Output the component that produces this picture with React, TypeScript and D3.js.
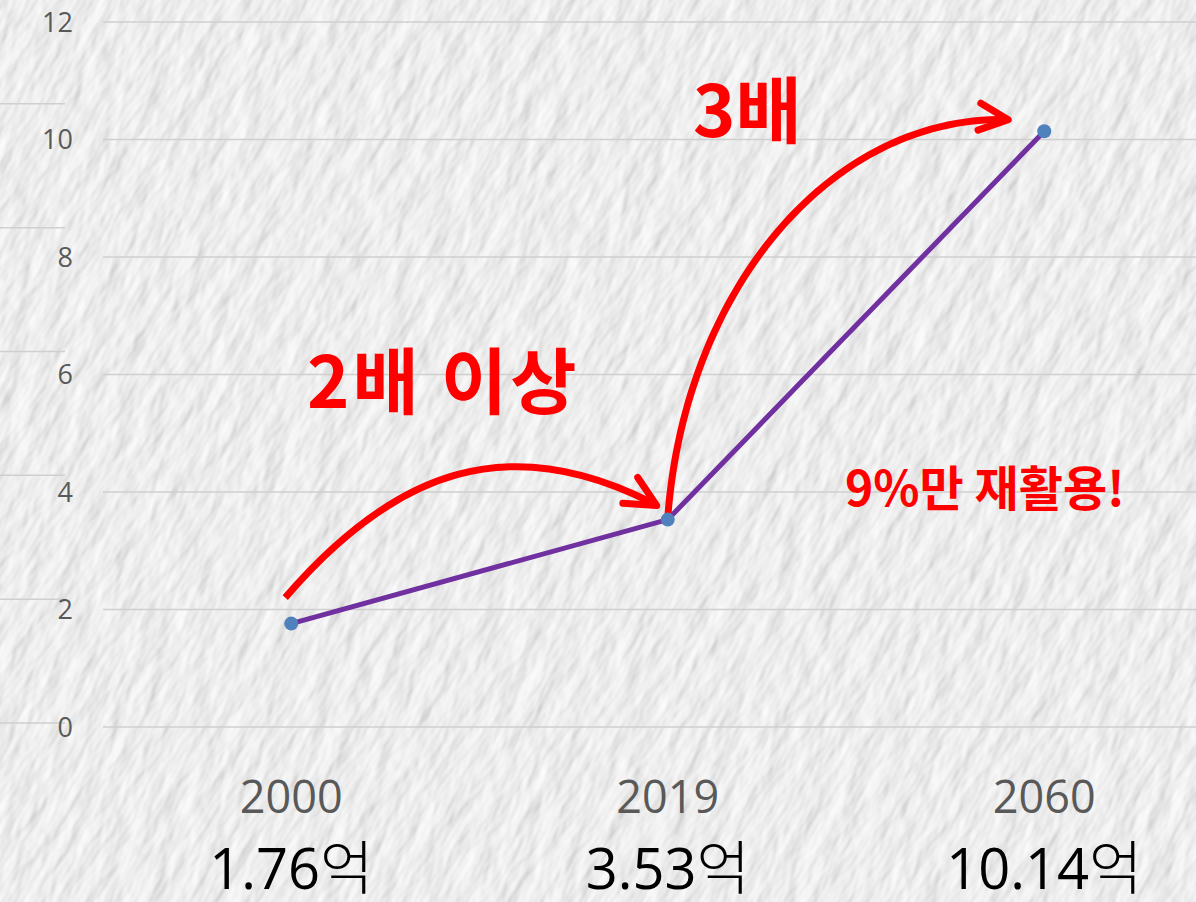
import React from "react";
import * as d3 from "d3";

const W = 1196;
const H = 902;

const years = ["2000", "2019", "2060"];
const values = [1.76, 3.53, 10.14];
const valueLabels = ["1.76", "3.53", "10.14"];
const valueUnit = "억";
const yTicks = [0, 2, 4, 6, 8, 10, 12];
const ghostTicks = [0, 2, 4, 6, 8, 10];
const annoLeft = "2배 이상";
const annoRight = "3배";
const annoRecycle = "9%만 재활용!";

const RED = "#ff0000";
const PURPLE = "#7030a0";
const BLUE = "#4f81bd";
const GRID = "#cfcfcf";
const TICK = "#595959";
const FONT = "'Open Sans', 'Noto Sans CJK KR', sans-serif";
const KFONT = "'Noto Sans CJK KR', 'Open Sans', sans-serif";

function arrowHead(tipX: number, tipY: number, angDeg: number, spread: number, len: number) {
  const a = (angDeg * Math.PI) / 180;
  const s = (spread * Math.PI) / 180;
  const b1 = [tipX - len * Math.cos(a - s), tipY - len * Math.sin(a - s)];
  const b2 = [tipX - len * Math.cos(a + s), tipY - len * Math.sin(a + s)];
  return `M${b1[0]},${b1[1]} L${tipX},${tipY} L${b2[0]},${b2[1]}`;
}

export default function App() {
  const x = d3.scalePoint<string>().domain(years).range([103, 1232.5]).padding(0.5);
  const y = d3.scaleLinear().domain([0, 12]).range([727, 22]);
  const yGhost = d3.scaleLinear().domain([0, 12]).range([723, -20]);

  const pts = years.map((yr, i) => [x(yr) as number, y(values[i])] as [number, number]);
  const line = d3.line<[number, number]>()(pts) as string;

  const [p0, p1, p2] = pts;
  // arrow 1: from 2000 point to 2019 point
  const a1 = d3.path();
  a1.moveTo(p0[0] - 6, p0[1] - 26);
  a1.bezierCurveTo(p0[0] + 105, p0[1] - 155, p1[0] - 158, p1[1] - 89, p1[0] - 16, p1[1] - 17);

  // arrow 2: elliptical arc from 2019 point towards 2060 point
  const cx = p2[0] - 44;
  const cy = p1[1] + 40;
  const rx = 334;
  const ry = 440;
  const th0 = Math.acos((p1[0] - cx) / rx);
  const th1 = Math.acos((p2[0] - 38 - cx) / rx);
  const arcPts = d3.range(0, 61).map((i) => {
    const th = th0 + ((th1 - th0) * i) / 60;
    return [cx + rx * Math.cos(th), cy - ry * Math.sin(th)] as [number, number];
  });
  const a2 = d3.line<[number, number]>()(arcPts) as string;
  const tip2 = arcPts[arcPts.length - 1];

  return (
    <svg
      width={W}
      height={H}
      style={{ position: "absolute", left: 0, top: 0, display: "block" }}
    >
      <defs>
        <filter id="paper" x="0" y="0" width="100%" height="100%">
          <feTurbulence type="fractalNoise" baseFrequency="0.022 0.055" numOctaves="3" seed="11" result="noise" />
          <feDiffuseLighting in="noise" lightingColor="#ffffff" surfaceScale="2.2" diffuseConstant="1.0" result="light">
            <feDistantLight azimuth="235" elevation="58" />
          </feDiffuseLighting>
        </filter>
      </defs>
      <rect x={0} y={0} width={W} height={H} fill="#dcdcdc" />
      <g transform={`rotate(-60 ${W / 2} ${H / 2})`}>
        <rect x={-700} y={-700} width={W + 1400} height={H + 1400} filter="url(#paper)" />
      </g>

      {/* ghost lines at left */}
      {ghostTicks.map((t) => (
        <line key={"g" + t} x1={0} x2={65} y1={yGhost(t)} y2={yGhost(t)} stroke={GRID} strokeWidth={1.5} />
      ))}

      {/* gridlines */}
      {yTicks.map((t) => (
        <line key={t} x1={103} x2={W} y1={y(t)} y2={y(t)} stroke={GRID} strokeWidth={1.5} />
      ))}
      {yTicks.map((t) => (
        <text
          key={"l" + t}
          x={73}
          y={y(t)}
          dy="0.36em"
          textAnchor="end"
          fontFamily={FONT}
          fontSize={27}
          fill={TICK}
        >
          {t}
        </text>
      ))}

      {/* x labels */}
      {years.map((yr) => (
        <text key={yr} x={x(yr)} y={813} textAnchor="middle" fontFamily={FONT} fontSize={45} fill={TICK}>
          {yr}
        </text>
      ))}
      {years.map((yr, i) => (
        <text key={"v" + yr} x={x(yr)} y={889} textAnchor="middle" fontFamily={FONT} fontSize={56} fill="#000">
          {valueLabels[i]}
          <tspan fontFamily={KFONT} fontWeight={300} fontSize={58}>{valueUnit}</tspan>
        </text>
      ))}

      {/* series */}
      <path d={line} fill="none" stroke={PURPLE} strokeWidth={5} />

      {/* arrows */}
      <path d={a1.toString()} fill="none" stroke={RED} strokeWidth={7} />
      <path d={arrowHead(p1[0] - 11, p1[1] - 14, 30, 26, 34)} fill="none" stroke={RED} strokeWidth={7} strokeLinecap="round" strokeLinejoin="round" />
      <path d={a2} fill="none" stroke={RED} strokeWidth={7} />
      <path d={arrowHead(tip2[0] + 2, tip2[1], 6, 25, 32)} fill="none" stroke={RED} strokeWidth={7} strokeLinecap="round" strokeLinejoin="round" />

      {pts.map((p, i) => (
        <circle key={"c" + i} cx={p[0]} cy={p[1]} r={7} fill={BLUE} />
      ))}

      {/* annotations */}
      <text x={307} y={408} fontFamily={KFONT} fontWeight={700} fontSize={72} letterSpacing={3} fill={RED}>
        {annoLeft}
      </text>
      <text x={693} y={137} fontFamily={KFONT} fontWeight={700} fontSize={72} fill={RED}>
        {annoRight}
      </text>
      <text x={845} y={506} fontFamily={KFONT} fontWeight={700} fontSize={48} fill={RED}>
        {annoRecycle}
      </text>
    </svg>
  );
}
